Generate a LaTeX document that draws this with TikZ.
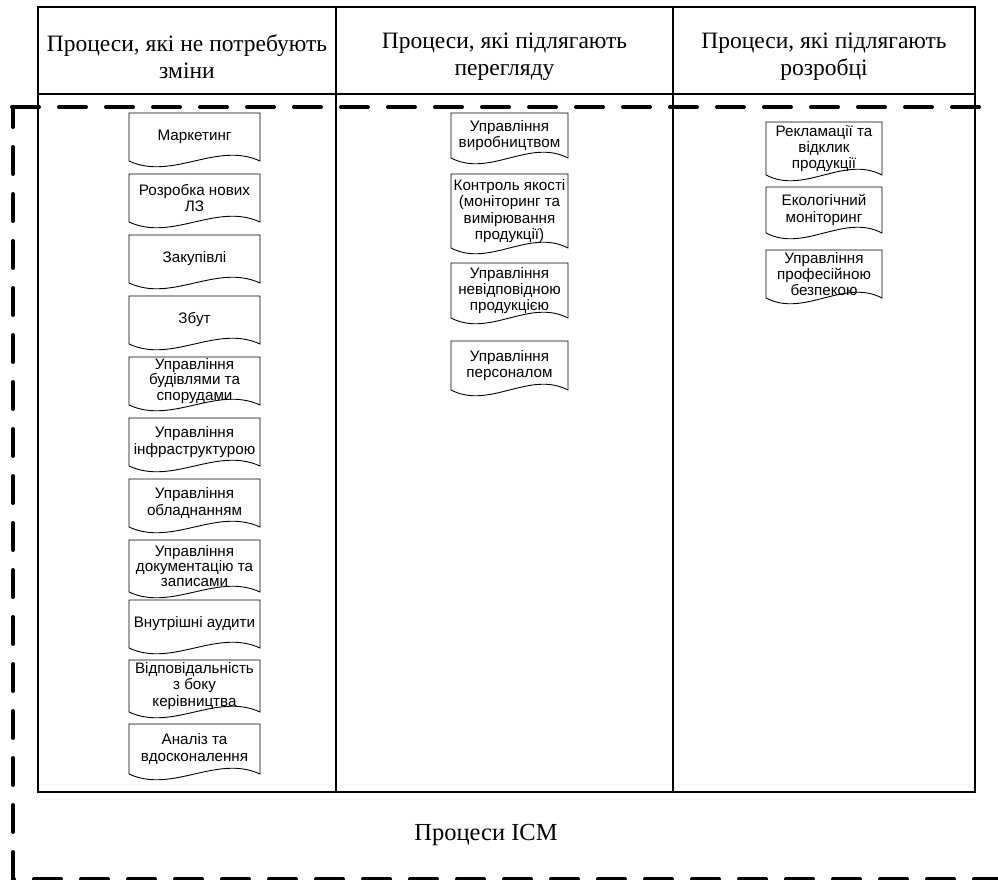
\documentclass[tikz,border=0pt]{standalone}
\usepackage{fontspec}
\setmainfont{Liberation Serif}
\newfontfamily\boxfont{Liberation Sans}
\usetikzlibrary{positioning,calc}

\tikzset{
  process/.style={align=center, inner sep=0pt, outer sep=0pt,
    minimum width=131pt, minimum height=48pt,
    font=\boxfont\fontsize{15.2}{16.4}\selectfont},
  tight/.style={font=\boxfont\fontsize{15.2}{15.4}\selectfont},
  midproc/.style={process, minimum width=117pt},
  newproc/.style={process, minimum width=116pt},
  header/.style={align=center, font=\fontsize{23.5}{27}\selectfont},
  frame/.style={line width=1.2pt},
  outline/.style={line width=0.9pt},
  border/.style={line width=4pt, line cap=round, dash pattern=on 27pt off 20pt},
}

\begin{document}
\begin{tikzpicture}[x=1pt, y=-1pt]
  \useasboundingbox (0,0) rectangle (998,880);

  % Table
  \draw[frame] (38,7) rectangle (975,792);
  \draw[frame] (38,94) -- (975,94);
  \draw[frame] (336,7) -- (336,792);
  \draw[frame] (673,7) -- (673,792);

  % Headers
  \node[header] (h1) at (187,56.5)   {Процеси, які не потребують\\зміни};
  \node[header] (h2) at (504.5,56.5) {Процеси, які підлягають\\перегляду};
  \node[header] (h3) at (824,56.5)   {Процеси, які підлягають\\розробці};

  % Processes without changes
  \node[process, anchor=north] (keep1) at (194.5,113) {Маркетинг};
  \node[process, below=13pt of keep1] (keep2) {Розробка нових\\ЛЗ};
  \node[process, below=13pt of keep2] (keep3) {Закупівлі};
  \node[process, below=13pt of keep3] (keep4) {Збут};
  \node[process, tight, below=13pt of keep4] (keep5) {Управління\\будівлями та\\спорудами};
  \node[process, below=13pt of keep5] (keep6) {Управління\\інфраструктурою};
  \node[process, below=13pt of keep6] (keep7) {Управління\\обладнанням};
  \node[process, tight, below=13pt of keep7, minimum height=52pt] (keep8) {Управління\\документацію та\\записами};
  \node[process, below=8pt of keep8] (keep9) {Внутрішні аудити};
  \node[process, below=12pt of keep9, minimum height=52pt] (keep10) {Відповідальність\\з боку\\керівництва};
  \node[process, below=12pt of keep10, minimum height=50pt] (keep11) {Аналіз та\\вдосконалення};

  % Processes to review
  \node[midproc, anchor=north, minimum height=45pt] (rev1) at (509.5,113) {Управління\\виробництвом};
  \node[midproc, below=16pt of rev1, minimum height=74pt] (rev2) {Контроль якості\\(моніторинг та\\вимірювання\\продукції)};
  \node[midproc, below=15pt of rev2, minimum height=55pt] (rev3) {Управління\\невідповідною\\продукцією};
  \node[midproc, below=23pt of rev3, minimum height=49pt] (rev4) {Управління\\персоналом};

  % Processes to develop
  \node[newproc, anchor=north, minimum height=53pt] (dev1) at (824,122) {Рекламації та\\відклик\\продукції};
  \node[newproc, below=12pt of dev1, minimum height=46pt] (dev2) {Екологічний\\моніторинг};
  \node[newproc, below=17pt of dev2, minimum height=48pt] (dev3) {Управління\\професійною\\безпекою};

  % Document outlines
  \foreach \n in {keep1,keep2,keep3,keep4,keep5,keep6,keep7,keep8,keep9,keep10,keep11,
                  rev1,rev2,rev3,rev4,dev1,dev2,dev3}
    \draw[outline] (\n.south west) -- (\n.north west) -- (\n.north east) -- (\n.south east)
      .. controls ($(\n.south east)!0.33!(\n.south west)+(0,-20)$)
         and ($(\n.south west)!0.33!(\n.south east)+(0,20)$) .. (\n.south west) -- cycle;

  % ICM border
  \draw[border] (12,107) -- (998,107);
  \draw[border, dash phase=7pt] (13,107) -- (13,880);
  \draw[border, dash phase=26pt] (13,879) -- (998,879);

  \node[font=\fontsize{24.5}{27}\selectfont] (icm) at (486,835) {Процеси ICM};
\end{tikzpicture}
\end{document}
